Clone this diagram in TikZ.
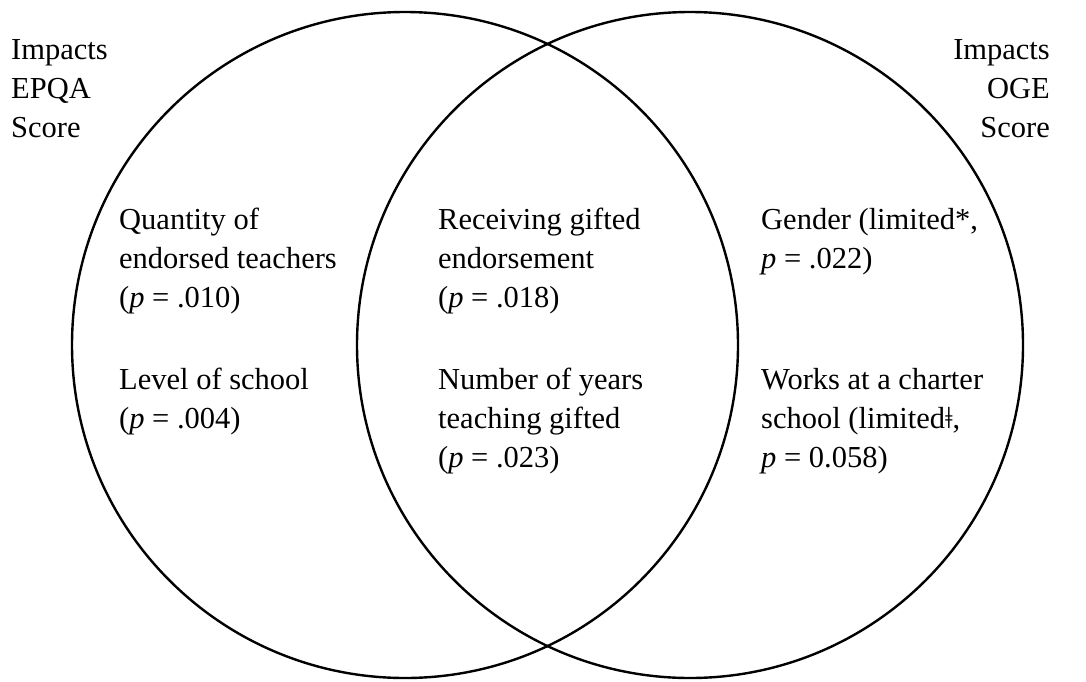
\documentclass[tikz,border=0pt]{standalone}
\usepackage{fontspec}
\setmainfont{Liberation Serif}
\begin{document}
\begin{tikzpicture}[x=1pt,y=-1pt,
  ring/.style={circle, draw=black, line width=2.4pt, minimum size=666pt, inner sep=0pt},
  lbl/.style={font=\fontsize{30.5}{39}\selectfont, inner sep=0pt, align=left, anchor=base west},
  lblr/.style={font=\fontsize{30.5}{39}\selectfont, inner sep=0pt, align=right, anchor=base east}]
\useasboundingbox (0,0) rectangle (1086,681);
\node[ring] (leftset) at (405,345) {};
\node[ring] (rightset) at (690,345) {};
\node[lbl] (ltitle) at (11,137) {Impacts\\EPQA\\Score};
\node[lblr] (rtitle) at (1050,137) {Impacts\\OGE\\Score};
\node[lbl] (qty) at (119,307) {Quantity of\\endorsed teachers\\(\textit{p} = .010)};
\node[lbl] (lvl) at (119,428) {Level of school\\(\textit{p} = .004)};
\node[lbl] (recv) at (438,307) {Receiving gifted\\endorsement\\(\textit{p} = .018)};
\node[lbl] (nyrs) at (438,467) {Number of years\\teaching gifted\\(\textit{p} = .023)};
\node[lbl] (gend) at (761,268) {Gender (limited*,\\\textit{p} = .022)};
\node[lbl] (chrt) at (761,467) {Works at a charter\\school (limitedǂ,\\\textit{p} = 0.058)};
\end{tikzpicture}
\end{document}
